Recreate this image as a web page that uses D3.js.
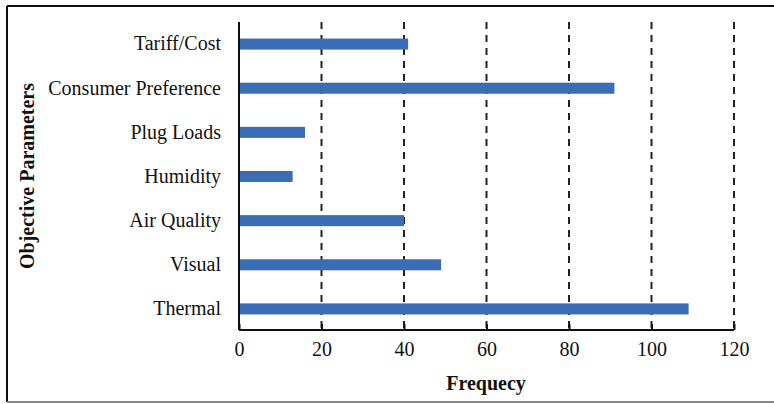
<!DOCTYPE html>
<html><head><meta charset="utf-8">
<script src="https://cdn.jsdelivr.net/npm/d3@7"></script>
<style>body{margin:0;background:#fff}svg{display:block}</style>
</head><body>
<svg id="c" width="774" height="404"></svg>
<script>
const categories = ["Tariff/Cost","Consumer Preference","Plug Loads","Humidity","Air Quality","Visual","Thermal"];
const values = [41, 91, 16, 13, 40, 49, 109];
const xTicks = [0,20,40,60,80,100,120];
const xTitle = "Frequecy";
const yTitle = "Objective Parameters";

const svg = d3.select("#c");
const font = "'Liberation Serif', 'Times New Roman', serif";
const L = 239, R = 734, T = 22, B = 330;

// frame
svg.append("line").attr("x1",7).attr("x2",774).attr("y1",6).attr("y2",6).attr("stroke","#111").attr("stroke-width",2);
svg.append("line").attr("x1",7).attr("x2",7).attr("y1",6).attr("y2",402).attr("stroke","#111").attr("stroke-width",2);
svg.append("line").attr("x1",7).attr("x2",774).attr("y1",402).attr("y2",402).attr("stroke","#888").attr("stroke-width",2);

const x = d3.scaleLinear().domain([0,120]).range([L,R]);
const y = d3.scaleBand().domain(categories).range([T,B+1]).paddingInner(0.75).paddingOuter(0.375);

// gridlines
svg.append("g").selectAll("line").data(xTicks.filter(d=>d>0)).join("line")
  .attr("x1",d=>x(d)).attr("x2",d=>x(d)).attr("y1",T).attr("y2",B)
  .attr("stroke","#222").attr("stroke-width",2).attr("stroke-dasharray","7,6");

// bars
svg.append("g").selectAll("rect").data(categories).join("rect")
  .attr("x",x(0)).attr("y",d=>y(d)).attr("height",y.bandwidth())
  .attr("width",(d,i)=>x(values[i])-x(0)).attr("fill","#3b6db6");

// x axis
const xa = svg.append("g").attr("transform",`translate(0,${B})`)
  .call(d3.axisBottom(x).tickValues(xTicks).tickSize(-6).tickPadding(12));
xa.select(".domain").attr("stroke","#111").attr("stroke-width",2).attr("d",`M${L},0H${R}`);
xa.selectAll(".tick line").attr("stroke","#111").attr("stroke-width",2);
xa.selectAll("text").attr("font-family",font).attr("font-size",20).attr("fill","#111");

// y axis
const ya = svg.append("g").attr("transform",`translate(${L},0)`)
  .call(d3.axisLeft(y).tickSize(0).tickPadding(18));
ya.select(".domain").attr("stroke","#111").attr("stroke-width",2).attr("d",`M0,${T}V${B}`);
ya.selectAll("text").attr("font-family",font).attr("font-size",20).attr("fill","#111");

// titles
svg.append("text").attr("x",486).attr("y",390).attr("text-anchor","middle")
  .attr("font-family",font).attr("font-size",20).attr("font-weight","bold").attr("fill","#111").text(xTitle);
svg.append("text").attr("transform",`translate(34,${(T+B)/2}) rotate(-90)`).attr("text-anchor","middle")
  .attr("font-family",font).attr("font-size",20).attr("font-weight","bold").attr("fill","#111").text(yTitle);
</script>
</body></html>
